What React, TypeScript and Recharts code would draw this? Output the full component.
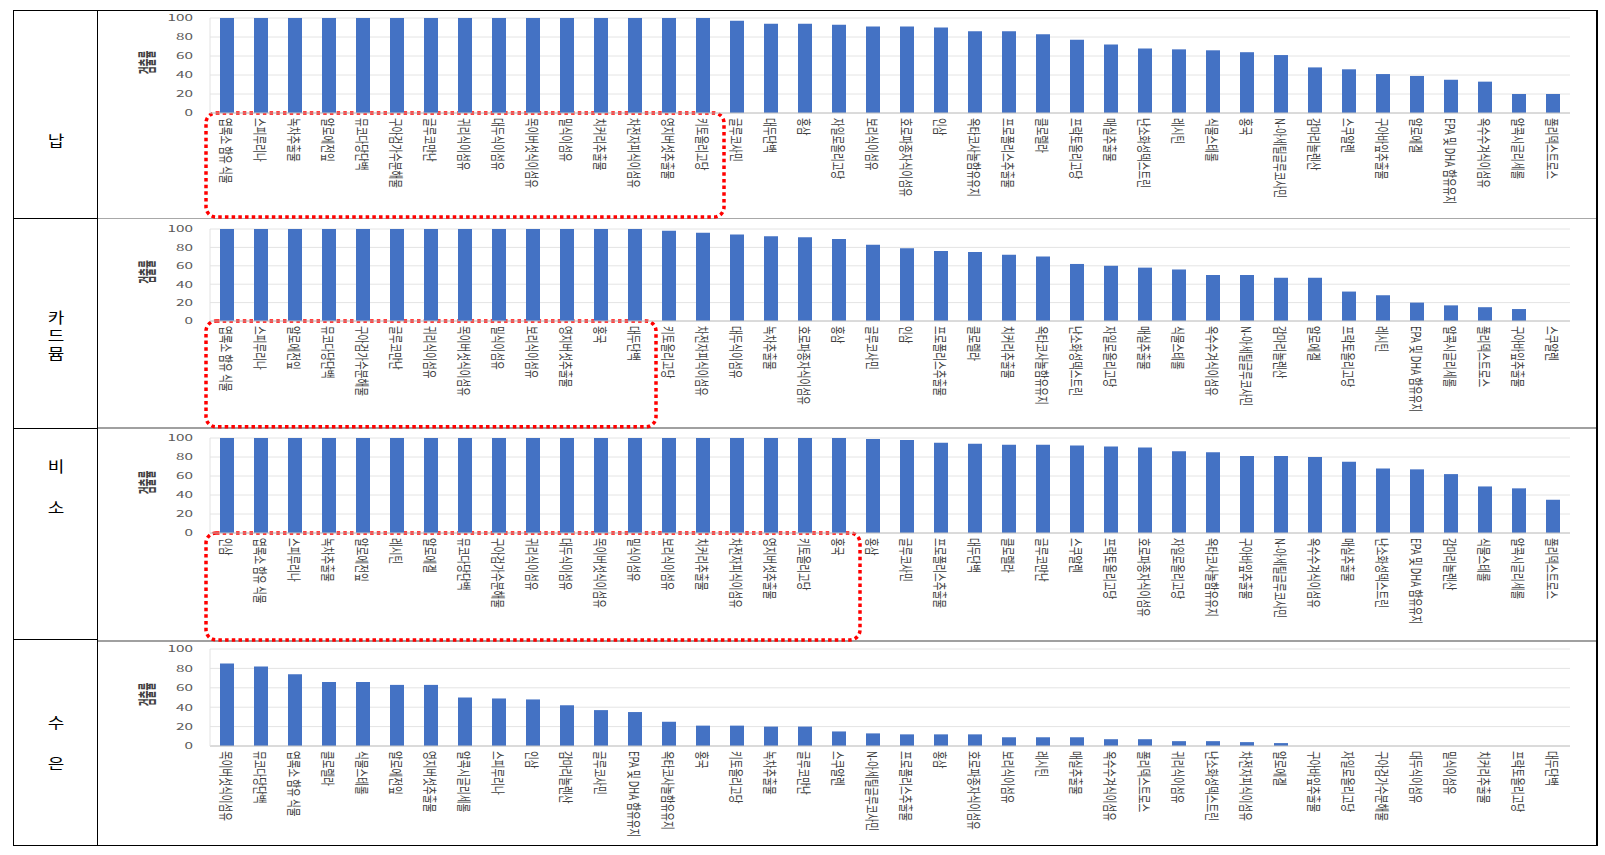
import React from "react";
import { BarChart, Bar, XAxis, YAxis, CartesianGrid, ReferenceArea } from "recharts";

const yTicks = [0, 20, 40, 60, 80, 100];

// 납
const pbLabels = [
  "엽록소 함유 식물", "스피루리나", "녹차추출물", "알로에전잎", "뮤코다당단백", "구아검가수분해물", "글루코만난",
  "귀리식이섬유", "대두식이섬유", "목이버섯식이섬유", "밀식이섬유", "치커리추출물", "차전자피식이섬유", "영지버섯추출물",
  "키토올리고당", "글루코사민", "대두단백", "홍삼", "자일로올리고당", "보리식이섬유", "호로파종자식이섬유", "인삼",
  "옥타코사놀함유유지", "프로폴리스추출물", "클로렐라", "프락토올리고당", "매실추출물", "난소화성덱스트린", "레시틴",
  "식물스테롤", "홍국", "N-아세틸글루코사민", "감마리놀렌산", "스쿠알렌", "구아바잎추출물", "알로에겔",
  "EPA 및 DHA 함유유지", "옥수수겨식이섬유", "알콕시글리세롤", "폴리덱스트로스",
];
const pbValues = [
  100, 100, 100, 100, 100, 100, 100, 100, 100, 100, 100, 100, 100, 100, 100,
  97, 94, 94, 93, 91, 91, 90, 86, 86, 83, 77, 72, 68, 67, 66, 64, 61, 48, 46, 41, 39, 35, 33, 20, 20,
];

// 카드뮴
const cdLabels = [
  "엽록소 함유 식물", "스피루리나", "알로에전잎", "뮤코다당단백", "구아검가수분해물", "글루코만난", "귀리식이섬유",
  "목이버섯식이섬유", "밀식이섬유", "보리식이섬유", "영지버섯추출물", "홍국", "대두단백",
  "키토올리고당", "차전자피식이섬유", "대두식이섬유", "녹차추출물", "호로파종자식이섬유", "홍삼", "글루코사민", "인삼",
  "프로폴리스추출물", "클로렐라", "치커리추출물", "옥타코사놀함유유지", "난소화성덱스트린", "자일로올리고당",
  "매실추출물", "식물스테롤", "옥수수겨식이섬유", "N-아세틸글루코사민", "감마리놀렌산", "알로에겔", "프락토올리고당",
  "레시틴", "EPA 및 DHA 함유유지", "알콕시글리세롤", "폴리덱스트로스", "구아바잎추출물", "스쿠알렌",
];
const cdValues = [
  100, 100, 100, 100, 100, 100, 100, 100, 100, 100, 100, 100, 100,
  98, 96, 94, 92, 91, 89, 83, 79, 76, 75, 72, 70, 62, 60, 58, 56, 50, 50, 47, 47, 32, 28, 20, 17, 15, 13, 0,
];

// 비소
const asLabels = [
  "인삼", "엽록소 함유 식물", "스피루리나", "녹차추출물", "알로에전잎", "레시틴", "알로에겔", "뮤코다당단백",
  "구아검가수분해물", "귀리식이섬유", "대두식이섬유", "목이버섯식이섬유", "밀식이섬유", "보리식이섬유", "치커리추출물",
  "차전자피식이섬유", "영지버섯추출물", "키토올리고당", "홍국",
  "홍삼", "글루코사민", "프로폴리스추출물", "대두단백", "클로렐라", "글루코만난", "스쿠알렌", "프락토올리고당",
  "호로파종자식이섬유", "자일로올리고당", "옥타코사놀함유유지", "구아바잎추출물", "N-아세틸글루코사민",
  "옥수수겨식이섬유", "매실추출물", "난소화성덱스트린", "EPA 및 DHA 함유유지", "감마리놀렌산", "식물스테롤",
  "알콕시글리세롤", "폴리덱스트로스",
];
const asValues = [
  100, 100, 100, 100, 100, 100, 100, 100, 100, 100, 100, 100, 100, 100, 100, 100, 100, 100, 100,
  99, 98, 95, 94, 93, 93, 92, 91, 90, 86, 85, 81, 81, 80, 75, 68, 67, 62, 49, 47, 35,
];

// 수은
const hgLabels = [
  "목이버섯식이섬유", "뮤코다당단백", "엽록소 함유 식물", "클로렐라", "식물스테롤", "알로에전잎", "영지버섯추출물",
  "알콕시글리세롤", "스피루리나", "인삼", "감마리놀렌산", "글루코사민", "EPA 및 DHA 함유유지", "옥타코사놀함유유지",
  "홍국", "키토올리고당", "녹차추출물", "글루코만난", "스쿠알렌", "N-아세틸글루코사민", "프로폴리스추출물", "홍삼",
  "호로파종자식이섬유", "보리식이섬유", "레시틴", "매실추출물", "옥수수겨식이섬유", "폴리덱스트로스", "귀리식이섬유",
  "난소화성덱스트린", "차전자피식이섬유", "알로에겔", "구아바잎추출물", "자일로올리고당", "구아검가수분해물",
  "대두식이섬유", "밀식이섬유", "치커리추출물", "프락토올리고당", "대두단백",
];
const hgValues = [
  85, 82, 74, 66, 66, 63, 63, 50, 49, 48, 42, 37, 35, 25, 21, 21, 20, 20, 15, 13,
  12, 12, 12, 9, 9, 9, 7, 7, 5, 5, 4, 3, 0, 0, 0, 0, 0, 0, 0, 0,
];

const FONT = "'Noto Sans CJK KR', 'Noto Sans', sans-serif";

const CategoryTick = (props: any) => {
  const { x, y, payload } = props;
  return (
    <g transform={`translate(${x},${y}) scale(1.45,1)`}>
      <text
        transform="rotate(90)"
        textAnchor="start"
        dominantBaseline="central"
        fontSize={9.5}
        fill="#404040"
        fontFamily={FONT}
      >
        {payload.value}
      </text>
    </g>
  );
};

const ValueTick = (props: any) => {
  const { x, y, payload } = props;
  return (
    <g transform={`translate(${x},${y}) scale(1.8,1)`}>
      <text textAnchor="end" dominantBaseline="central" fontSize={8.5} fill="#595959" fontFamily={FONT}>
        {payload.value}
      </text>
    </g>
  );
};

const axisTitle = (props: any) => {
  const vb = props.viewBox;
  const cx = vb.x + 48;
  const cy = vb.y + vb.height / 2 - 3;
  return (
    <g transform={`translate(${cx},${cy}) scale(2.2,1)`}>
      <text
        transform="rotate(-90)"
        textAnchor="middle"
        dominantBaseline="central"
        fontSize={8.5}
        fontWeight="bold"
        fill="#404040"
        fontFamily={FONT}
      >
        검출률
      </text>
    </g>
  );
};

type PanelProps = {
  labels: string[];
  values: number[];
  top: number;
  plotTop: number;
  plotBottom: number;
  axisH: number;
  boxLast?: string;
  boxDepth?: number;
};

function DetectionChart({ labels, values, top, plotTop, plotBottom, axisH, boxLast, boxDepth }: PanelProps) {
  const data = labels.map((name, i) => ({ name, rate: values[i] }));
  const marginTop = plotTop - top;
  const height = marginTop + (plotBottom - plotTop) + axisH;
  return (
    <div style={{ position: "absolute", left: 98, top }}>
      <BarChart width={1480} height={height} data={data} margin={{ top: marginTop, right: 8, bottom: 0, left: 0 }}>
        <CartesianGrid vertical={false} stroke="#e4e4e4" />
        <XAxis
          dataKey="name"
          interval={0}
          height={axisH}
          tickLine={false}
          tickSize={0}
          tickMargin={5}
          axisLine={{ stroke: "#c4c4c4" }}
          tick={<CategoryTick />}
        />
        <YAxis
          domain={[0, 100]}
          ticks={yTicks}
          interval={0}
          width={112}
          tickLine={false}
          tickSize={0}
          tickMargin={17}
          axisLine={{ stroke: "#e2e2e2" }}
          tick={<ValueTick />}
          label={{ content: axisTitle }}
        />
        <Bar dataKey="rate" fill="#4472c4" barSize={14} isAnimationActive={false} />
        {boxLast && (
          <ReferenceArea
            x1={labels[0]}
            x2={boxLast}
            y1={0}
            y2={-(boxDepth ?? 100)}
            ifOverflow="visible"
            shape={(p: any) => (
              <rect
                x={p.x - 4}
                y={p.y}
                width={p.width + 8}
                height={p.height}
                rx={10}
                fill="none"
                stroke="#ff0000"
                strokeWidth={3.5}
                strokeDasharray="3.5 3.2"
              />
            )}
          />
        )}
      </BarChart>
    </div>
  );
}

const sideLabel = (text: string, x: number, y: number) => (
  <div
    key={`${text}-${y}`}
    style={{
      position: "absolute",
      left: x - 20,
      top: y - 8,
      width: 40,
      height: 16,
      lineHeight: "16px",
      textAlign: "center",
      fontSize: 15,
      fontFamily: FONT,
      color: "#000",
      transform: "scaleX(1.2)",
    }}
  >
    {text}
  </div>
);

const line = (left: number, top: number, width: number, height: number, color: string) => (
  <div style={{ position: "absolute", left, top, width, height, background: color }} />
);

export default function App() {
  return (
    <div style={{ position: "absolute", left: 0, top: 0, width: 1605, height: 855, background: "#fff", overflow: "hidden" }}>
      {line(13, 10, 1585, 1, "#000")}
      {line(13, 845, 1585, 1, "#000")}
      {line(13, 10, 1, 836, "#000")}
      {line(1596, 10, 2, 836, "#000")}
      {line(97, 10, 1, 836, "#000")}
      {line(13, 218, 84, 1, "#000")}
      {line(13, 428, 84, 1, "#000")}
      {line(13, 639, 84, 1, "#000")}
      {line(98, 218, 1498, 1, "#a8a8a8")}
      {line(98, 427, 1498, 2, "#a0a0a0")}
      {line(98, 640, 1498, 2, "#a0a0a0")}

      {sideLabel("납", 56, 140)}
      {sideLabel("카", 56, 317)}
      {sideLabel("드", 56, 335)}
      {sideLabel("뮴", 56, 353)}
      {sideLabel("비", 56, 466)}
      {sideLabel("소", 56, 507)}
      {sideLabel("수", 56, 722)}
      {sideLabel("은", 56, 763)}

      <DetectionChart labels={pbLabels} values={pbValues} top={10} plotTop={18} plotBottom={113} axisH={106} boxLast={pbLabels[14]} boxDepth={109.5} />
      <DetectionChart labels={cdLabels} values={cdValues} top={219} plotTop={229} plotBottom={321} axisH={108} boxLast={cdLabels[12]} boxDepth={115} />
      <DetectionChart labels={asLabels} values={asValues} top={429} plotTop={438} plotBottom={533} axisH={110} boxLast={asLabels[18]} boxDepth={112.5} />
      <DetectionChart labels={hgLabels} values={hgValues} top={641} plotTop={649} plotBottom={746} axisH={98} />
    </div>
  );
}
